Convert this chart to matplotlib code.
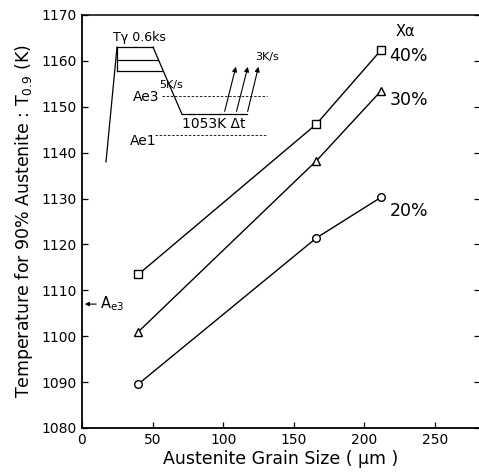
import numpy as np
import matplotlib.pyplot as plt

# grain size (um) and T0.9 (K) for each ferrite fraction
grain_size = [40, 166, 212]
t_40 = [1113.5, 1146.2, 1162.4]
t_30 = [1101.0, 1138.2, 1153.5]
t_20 = [1089.6, 1121.4, 1130.3]
series = [("40%", t_40, "s", 1161.0), ("30%", t_30, "^", 1151.5), ("20%", t_20, "o", 1127.3)]

ae3_level = 1107

# heat-treatment schematic (drawn in data units, top left corner)
sch_heat_x = [17, 24.8]
sch_heat_y = [1138.0, 1163.0]
sch_hold_y = [1163.0, 1160.2, 1157.8]
sch_hold_x_end = [50.3, 54.2, 57.6]
sch_cool_x = [50.3, 70.8]
sch_cool_y = [1163.0, 1148.4]
sch_iso_x = [70.8, 116.9]
sch_iso_y = 1148.4
sch_up_x0 = [100.6, 109.0, 116.9]
sch_up_x1 = [109.5, 118.0, 125.5]
sch_up_y1 = 1159.3
sch_ae3 = ([56.7, 131.0], 1152.4)
sch_ae1 = ([51.7, 131.0], 1143.9)

plt.rcParams['font.family'] = ['DejaVu Sans']
fig = plt.figure(figsize=(4.79, 4.72), dpi=100)
ax = fig.add_axes([82/479, 44/472, 398/479, 413/472])

for lab, vals, mk, ly in series:
    ax.plot(grain_size, vals, color='black', lw=1.0, marker=mk, ms=5.5,
            mfc='white', mec='black', mew=1.0)
    ax.text(218, ly, lab, fontsize=12.5, ha='left', va='center')
ax.text(229, 1166.3, "X\u03b1", fontsize=10.5, ha='center', va='center')

# Ae3 arrow on the left
ax.annotate("", xy=(0, ae3_level), xytext=(12, ae3_level),
            arrowprops=dict(arrowstyle='-|>', lw=0.8, color='black', mutation_scale=6))
ax.text(13, ae3_level, "A$_{\\mathregular{e3}}$", fontsize=10.5, ha='left', va='center')

# schematic
k = dict(color='black', lw=0.9)
ax.plot(sch_heat_x, sch_heat_y, **k)
ax.plot([sch_heat_x[1], sch_heat_x[1]], [sch_hold_y[0], sch_hold_y[-1]], **k)
for y, xe in zip(sch_hold_y, sch_hold_x_end):
    ax.plot([sch_heat_x[1], xe], [y, y], **k)
ax.plot(sch_cool_x, sch_cool_y, **k)
ax.plot(sch_iso_x, [sch_iso_y, sch_iso_y], **k)
for x0, x1 in zip(sch_up_x0, sch_up_x1):
    ax.annotate("", xy=(x1, sch_up_y1), xytext=(x0, sch_iso_y),
                arrowprops=dict(arrowstyle='-|>', lw=0.8, color='black', mutation_scale=7))
ax.plot(sch_ae3[0], [sch_ae3[1]] * 2, color='black', lw=0.6, ls=(0, (3, 2)))
ax.plot(sch_ae1[0], [sch_ae1[1]] * 2, color='black', lw=0.6, ls=(0, (3, 2)))
ax.text(22, 1165.0, "T\u03b3 0.6ks", fontsize=9, ha='left', va='center')
ax.text(63, 1154.8, "5K/s", fontsize=8, ha='center', va='center')
ax.text(55, 1152.2, "Ae3", fontsize=10, ha='right', va='center')
ax.text(53, 1142.6, "Ae1", fontsize=10, ha='right', va='center')
ax.text(93, 1146.2, "1053K \u0394t", fontsize=10, ha='center', va='center')
ax.text(131, 1160.8, "3K/s", fontsize=8, ha='center', va='center')

ax.set_xlim(0, 282)
ax.set_ylim(1080, 1170)
ax.set_xticks(np.arange(0, 251, 50))
ax.set_yticks(np.arange(1080, 1171, 10))
ax.tick_params(direction='in', length=4, width=0.9, right=True, top=False, labelsize=10)
ax.spines['right'].set_visible(False)
ax.spines['left'].set_linewidth(1.3)
ax.spines['bottom'].set_linewidth(1.3)
ax.spines['top'].set_linewidth(1.1)
ax.set_xlabel("Austenite Grain Size ( \u03bcm )", fontsize=12.5, labelpad=2)
ax.set_ylabel("Temperature for 90% Austenite : T$_{\\mathregular{0.9}}$ (K)", fontsize=12.5, labelpad=5)

fig.savefig("out.png", dpi=100)
